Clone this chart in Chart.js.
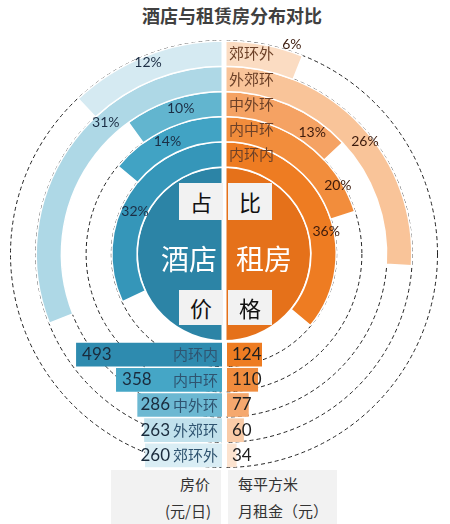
<!DOCTYPE html>
<html>
<head>
<meta charset="utf-8">
<script src="https://cdn.jsdelivr.net/npm/chart.js@4.4.0/dist/chart.umd.min.js"></script>
<style>
  body { margin: 0; background: #fff; font-family: "Noto Sans CJK SC", sans-serif; }
  #wrap { position: relative; width: 450px; height: 524px; overflow: hidden; background: #fff; }
  .abs { position: absolute; }
  #title { left: 142px; top: 3px; font-size: 18px; line-height: 24px; font-weight: 700; color: #404040; white-space: nowrap; }
  .tag { background: #f2f2f2; color: #111; font-size: 22px; text-align: center; z-index: 3; }
  .big { color: #fff; font-size: 28px; line-height: 34px; z-index: 3; white-space: nowrap; }
  .foot { background: #f2f2f2; color: #333; font-size: 15px; line-height: 27px; top: 470px; height: 54px; z-index: 3; white-space: nowrap; }
</style>
</head>
<body>
<div id="wrap">
  <div id="title" class="abs">酒店与租赁房分布对比</div>

  <div class="abs" style="left:4px;top:34px;width:440px;height:440px;z-index:1">
    <canvas id="rings"></canvas>
  </div>

  <div class="abs tag" style="left:179px;top:183px;width:44px;height:37px;line-height:37px">占</div>
  <div class="abs tag" style="left:228px;top:183px;width:44px;height:37px;line-height:37px">比</div>
  <div class="abs tag" style="left:179px;top:290px;width:44px;height:35px;line-height:35px">价</div>
  <div class="abs tag" style="left:228px;top:290px;width:44px;height:35px;line-height:35px">格</div>
  <div class="abs big" style="left:161px;top:241px">酒店</div>
  <div class="abs big" style="left:236px;top:241px">租房</div>

  <div class="abs" style="left:0;top:342px;width:222px;height:126px;z-index:2">
    <canvas id="hotelBars"></canvas>
  </div>
  <div class="abs" style="left:227px;top:342px;width:223px;height:126px;z-index:2">
    <canvas id="rentBars"></canvas>
  </div>

  <div class="abs foot" style="left:111px;width:110px;text-align:right">
    <div style="padding-right:11px">房价</div>
    <div style="padding-right:10px">(元/日)</div>
  </div>
  <div class="abs foot" style="left:228px;width:109px;text-align:left">
    <div style="padding-left:10px">每平方米</div>
    <div style="padding-left:10px">月租金（元）</div>
  </div>
</div>

<script>
// rings, inner to outer
const rings = ["内环内", "内中环", "中外环", "外郊环", "郊环外"];
const hotelShare = [32, 14, 10, 31, 12];
const rentShare = [36, 20, 13, 26, 6];
// price per ring
const hotelPrice = [493, 358, 286, 263, 260];
const rentPrice = [124, 110, 77, 60, 34];

const hotelColors = ["#3596b9", "#41a3c4", "#62b5cf", "#aed8e6", "#d5eaf2"];
const rentColors = ["#ee7c22", "#f28d3c", "#f5a263", "#f9c499", "#fbdcc2"];
const hotelBarColors = ["#2e8baf", "#45a6c6", "#6cb8d2", "#c1e1ec", "#d9edf4"];
const rentBarColors = ["#ee7c22", "#f08c3e", "#f5a86e", "#f9cba7", "#fce3cf"];
const hotelCenter = "#2c84a6";
const rentCenter = "#e5711a";

// where each % label sits along its arc (fraction of arc, radial shift)
const hotelLabelPos = [[0.56, -1], [0.53, 1], [0.46, 2], [0.375, 2], [0.5, 6]];
const rentLabelPos = [[0.6, 5], [0.82, 8], [0.77, 0], [0.55, 5], [0.83, 20]];

const pct = (v) => v + "%";

// dashed full circles under every ring
const dashedCircles = {
  id: "dashedCircles",
  beforeDatasetsDraw(chart) {
    const ctx = chart.ctx;
    ctx.save();
    ctx.strokeStyle = "#222";
    ctx.lineWidth = 1;
    ctx.setLineDash([4, 3]);
    for (let d = 0; d < rings.length; d++) {
      const arc = chart.getDatasetMeta(d).data[0];
      ctx.beginPath();
      ctx.arc(arc.x, arc.y, arc.outerRadius + 0.5, 0, Math.PI * 2);
      ctx.stroke();
    }
    ctx.restore();
  },
};

// white stripe between the halves, then the ring texts
const ringLabels = {
  id: "ringLabels",
  afterDatasetsDraw(chart) {
    const ctx = chart.ctx;
    const c = chart.getDatasetMeta(0).data[0];
    ctx.save();
    ctx.fillStyle = "#fff";
    ctx.fillRect(c.x - 2.5, 0, 5, chart.height);

    ctx.textBaseline = "middle";
    for (let d = 0; d < rings.length; d++) {
      const i = rings.length - 1 - d;
      const meta = chart.getDatasetMeta(d);
      const right = meta.data[0];
      const left = meta.data[2];
      const mid = (right.innerRadius + right.outerRadius) / 2;

      // ring name on the top of the right half
      ctx.font = '15px "Noto Sans CJK SC"';
      ctx.textAlign = "left";
      ctx.fillStyle = "#6d4128";
      ctx.fillText(rings[i], c.x + 5, c.y - mid);

      ctx.font = '14px Lato, "Noto Sans CJK SC"';
      ctx.textAlign = "center";

      let [f, dr] = rentLabelPos[i];
      let a = right.startAngle + f * (right.endAngle - right.startAngle);
      ctx.fillStyle = "#3b1a0c";
      ctx.fillText(pct(rentShare[i]), c.x + (mid + dr) * Math.cos(a), c.y + (mid + dr) * Math.sin(a));

      [f, dr] = hotelLabelPos[i];
      a = left.endAngle - f * (left.endAngle - left.startAngle);
      ctx.fillStyle = "#1c2e45";
      ctx.fillText(pct(hotelShare[i]), c.x + (mid + dr) * Math.cos(a), c.y + (mid + dr) * Math.sin(a));
    }
    ctx.restore();
  },
};

// outermost ring first
const ringSets = rings
  .map((name, i) => ({
    label: name,
    data: [rentShare[i], 100 - rentShare[i] - hotelShare[i], hotelShare[i]],
    backgroundColor: [rentColors[i], "rgba(0,0,0,0)", hotelColors[i]],
    borderColor: ["#fff", "rgba(0,0,0,0)", "#fff"],
    borderWidth: [1.5, 0, 1.5],
    weight: 1,
  }))
  .reverse();

ringSets.push({
  label: "center",
  data: [50, 50],
  backgroundColor: [rentCenter, hotelCenter],
  borderColor: "#fff",
  borderWidth: 2,
  weight: 3.45,
});

new Chart(document.getElementById("rings"), {
  type: "pie",
  data: { labels: ["租房", "", "酒店"], datasets: ringSets },
  options: {
    responsive: true,
    maintainAspectRatio: false,
    animation: false,
    radius: 213,
    cutout: 0,
    rotation: 0,
    layout: { padding: 0 },
    plugins: { legend: { display: false }, tooltip: { enabled: false } },
    events: [],
  },
  plugins: [dashedCircles, ringLabels],
});

// value + ring name inside the bars
const barLabels = {
  id: "barLabels",
  afterDatasetsDraw(chart, args, opts) {
    const ctx = chart.ctx;
    const values = chart.data.datasets[0].data;
    ctx.save();
    ctx.textBaseline = "middle";
    chart.getDatasetMeta(0).data.forEach((bar, i) => {
      const txt = String(values[i]);
      if (opts.side === "left") {
        ctx.font = '15px "Noto Sans CJK SC"';
        ctx.textAlign = "right";
        ctx.fillStyle = "#2f5470";
        ctx.fillText(chart.data.labels[i], bar.base - 4, bar.y);
        const catLeft = bar.base - 4 - ctx.measureText(chart.data.labels[i]).width;
        ctx.font = '17px Lato, "Noto Sans CJK SC"';
        const w = ctx.measureText(txt).width;
        ctx.textAlign = "left";
        ctx.fillStyle = "#1a2b3c";
        ctx.fillText(txt, Math.min(bar.x + 6, catLeft - w - 3), bar.y);
      } else {
        ctx.font = '17px Lato, "Noto Sans CJK SC"';
        ctx.textAlign = "left";
        ctx.fillStyle = "#1f1f1f";
        ctx.fillText(txt, bar.base + 5, bar.y);
      }
    });
    ctx.restore();
  },
};

function barConfig(values, colors, max, reverse, side) {
  return {
    type: "bar",
    data: {
      labels: rings,
      datasets: [{ data: values, backgroundColor: colors, barPercentage: 0.94, categoryPercentage: 1 }],
    },
    options: {
      indexAxis: "y",
      responsive: true,
      maintainAspectRatio: false,
      animation: false,
      layout: { padding: 0 },
      scales: {
        x: { display: false, min: 0, max: max, reverse: reverse },
        y: { display: false },
      },
      plugins: { legend: { display: false }, tooltip: { enabled: false }, barLabels: { side: side } },
      events: [],
    },
    plugins: [barLabels],
  };
}

new Chart(document.getElementById("hotelBars"), barConfig(hotelPrice, hotelBarColors, 750, true, "left"));
new Chart(document.getElementById("rentBars"), barConfig(rentPrice, rentBarColors, 790, false, "right"));
</script>
</body>
</html>
